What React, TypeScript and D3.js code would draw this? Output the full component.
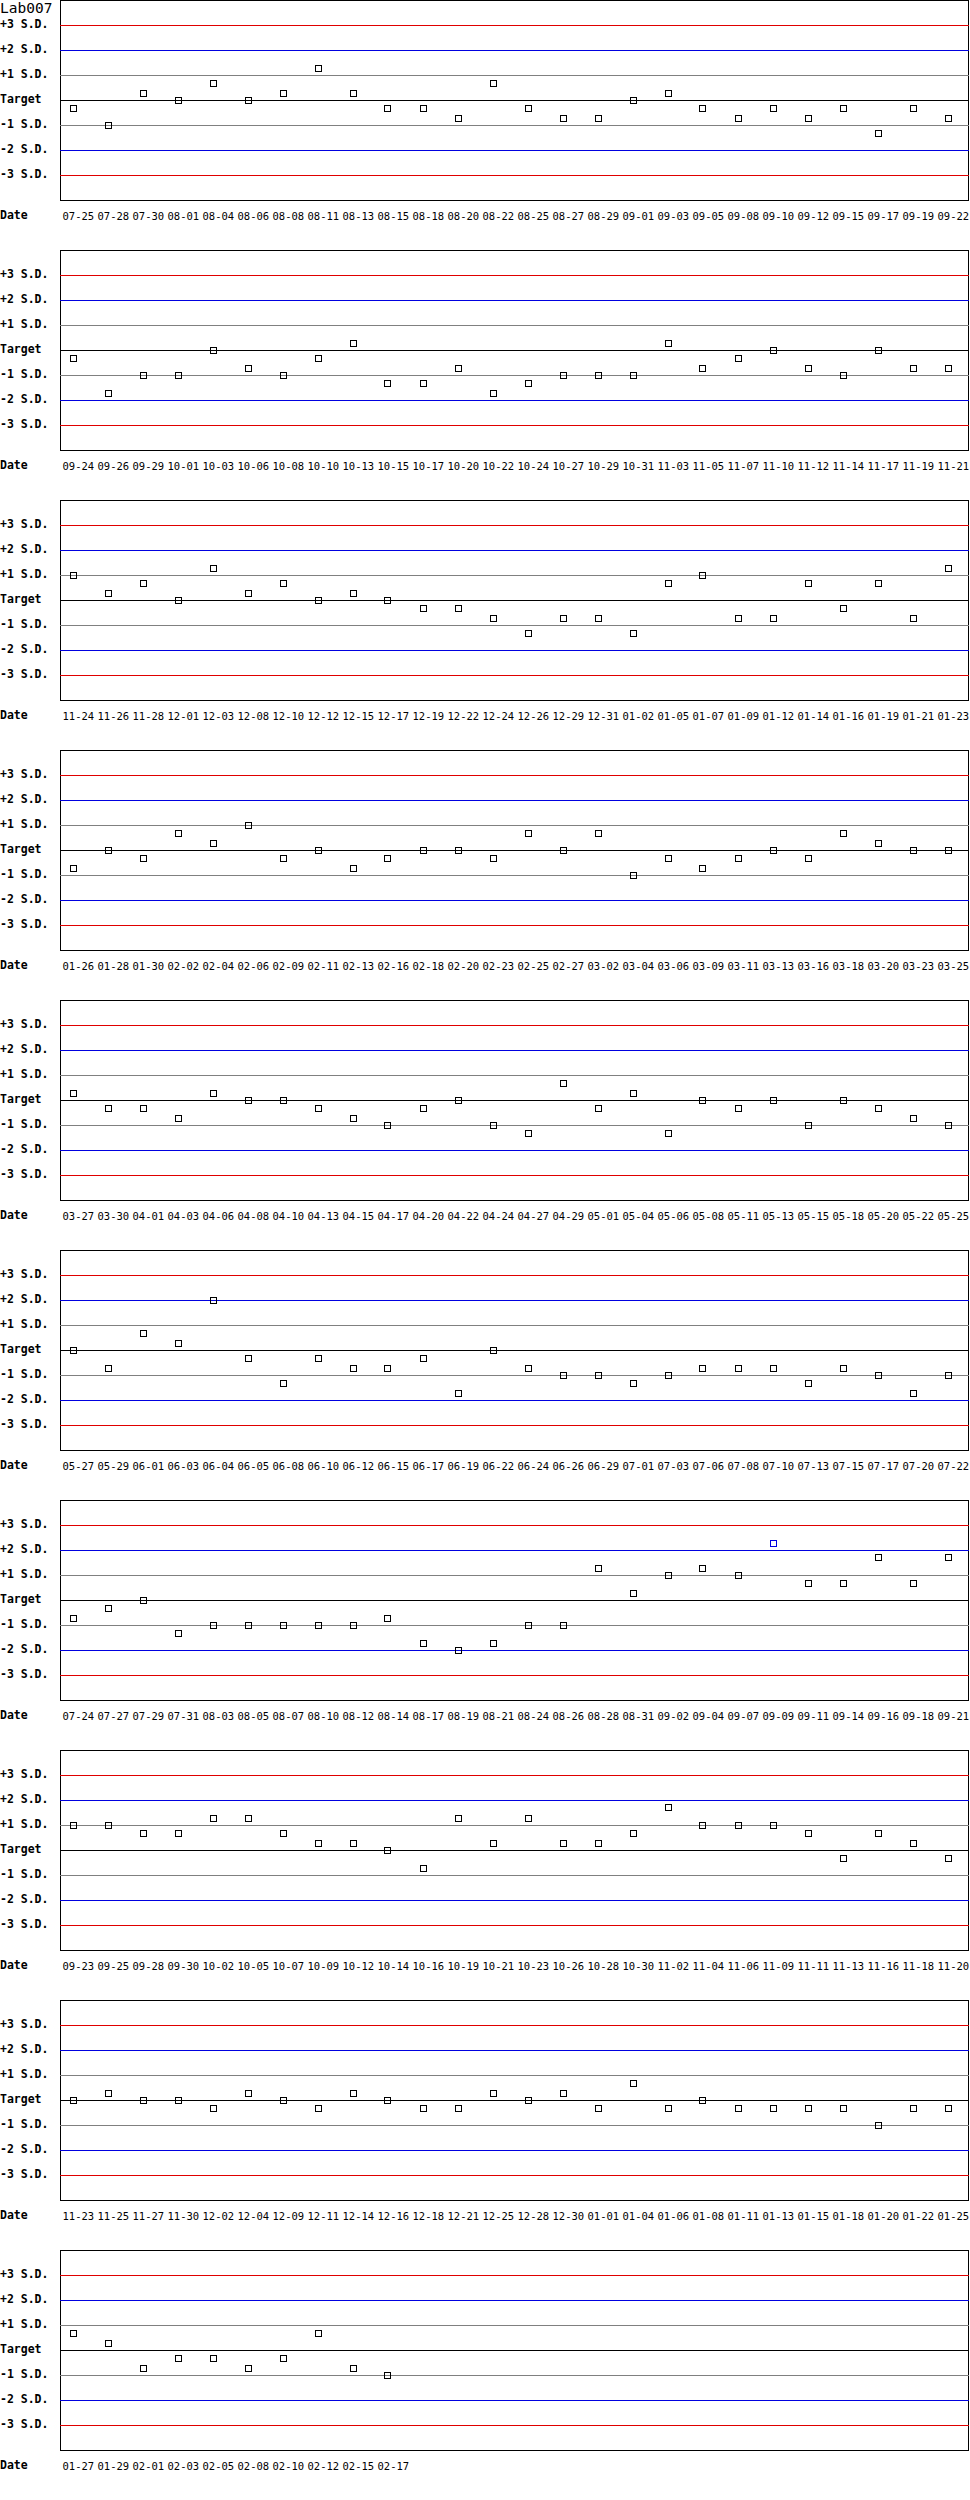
import * as d3 from "d3";

// QC results for Lab007, expressed in S.D. from target, one row of the chart per array pair
const dates1 = ["07-25", "07-28", "07-30", "08-01", "08-04", "08-06", "08-08", "08-11", "08-13", "08-15", "08-18", "08-20", "08-22", "08-25", "08-27", "08-29", "09-01", "09-03", "09-05", "09-08", "09-10", "09-12", "09-15", "09-17", "09-19", "09-22"];
const sd1 = [-0.3, -1.0, 0.3, 0, 0.7, 0, 0.3, 1.3, 0.3, -0.3, -0.3, -0.7, 0.7, -0.3, -0.7, -0.7, 0, 0.3, -0.3, -0.7, -0.3, -0.7, -0.3, -1.3, -0.3, -0.7];

const dates2 = ["09-24", "09-26", "09-29", "10-01", "10-03", "10-06", "10-08", "10-10", "10-13", "10-15", "10-17", "10-20", "10-22", "10-24", "10-27", "10-29", "10-31", "11-03", "11-05", "11-07", "11-10", "11-12", "11-14", "11-17", "11-19", "11-21"];
const sd2 = [-0.3, -1.7, -1.0, -1.0, 0, -0.7, -1.0, -0.3, 0.3, -1.3, -1.3, -0.7, -1.7, -1.3, -1.0, -1.0, -1.0, 0.3, -0.7, -0.3, 0, -0.7, -1.0, 0, -0.7, -0.7];

const dates3 = ["11-24", "11-26", "11-28", "12-01", "12-03", "12-08", "12-10", "12-12", "12-15", "12-17", "12-19", "12-22", "12-24", "12-26", "12-29", "12-31", "01-02", "01-05", "01-07", "01-09", "01-12", "01-14", "01-16", "01-19", "01-21", "01-23"];
const sd3 = [1.0, 0.3, 0.7, 0, 1.3, 0.3, 0.7, 0, 0.3, 0, -0.3, -0.3, -0.7, -1.3, -0.7, -0.7, -1.3, 0.7, 1.0, -0.7, -0.7, 0.7, -0.3, 0.7, -0.7, 1.3];

const dates4 = ["01-26", "01-28", "01-30", "02-02", "02-04", "02-06", "02-09", "02-11", "02-13", "02-16", "02-18", "02-20", "02-23", "02-25", "02-27", "03-02", "03-04", "03-06", "03-09", "03-11", "03-13", "03-16", "03-18", "03-20", "03-23", "03-25"];
const sd4 = [-0.7, 0, -0.3, 0.7, 0.3, 1.0, -0.3, 0, -0.7, -0.3, 0, 0, -0.3, 0.7, 0, 0.7, -1.0, -0.3, -0.7, -0.3, 0, -0.3, 0.7, 0.3, 0, 0];

const dates5 = ["03-27", "03-30", "04-01", "04-03", "04-06", "04-08", "04-10", "04-13", "04-15", "04-17", "04-20", "04-22", "04-24", "04-27", "04-29", "05-01", "05-04", "05-06", "05-08", "05-11", "05-13", "05-15", "05-18", "05-20", "05-22", "05-25"];
const sd5 = [0.3, -0.3, -0.3, -0.7, 0.3, 0, 0, -0.3, -0.7, -1.0, -0.3, 0, -1.0, -1.3, 0.7, -0.3, 0.3, -1.3, 0, -0.3, 0, -1.0, 0, -0.3, -0.7, -1.0];

const dates6 = ["05-27", "05-29", "06-01", "06-03", "06-04", "06-05", "06-08", "06-10", "06-12", "06-15", "06-17", "06-19", "06-22", "06-24", "06-26", "06-29", "07-01", "07-03", "07-06", "07-08", "07-10", "07-13", "07-15", "07-17", "07-20", "07-22"];
const sd6 = [0, -0.7, 0.7, 0.3, 2.0, -0.3, -1.3, -0.3, -0.7, -0.7, -0.3, -1.7, 0, -0.7, -1.0, -1.0, -1.3, -1.0, -0.7, -0.7, -0.7, -1.3, -0.7, -1.0, -1.7, -1.0];

const dates7 = ["07-24", "07-27", "07-29", "07-31", "08-03", "08-05", "08-07", "08-10", "08-12", "08-14", "08-17", "08-19", "08-21", "08-24", "08-26", "08-28", "08-31", "09-02", "09-04", "09-07", "09-09", "09-11", "09-14", "09-16", "09-18", "09-21"];
const sd7 = [-0.7, -0.3, 0, -1.3, -1.0, -1.0, -1.0, -1.0, -1.0, -0.7, -1.7, -2.0, -1.7, -1.0, -1.0, 1.3, 0.3, 1.0, 1.3, 1.0, 2.3, 0.7, 0.7, 1.7, 0.7, 1.7];

const dates8 = ["09-23", "09-25", "09-28", "09-30", "10-02", "10-05", "10-07", "10-09", "10-12", "10-14", "10-16", "10-19", "10-21", "10-23", "10-26", "10-28", "10-30", "11-02", "11-04", "11-06", "11-09", "11-11", "11-13", "11-16", "11-18", "11-20"];
const sd8 = [1.0, 1.0, 0.7, 0.7, 1.3, 1.3, 0.7, 0.3, 0.3, 0, -0.7, 1.3, 0.3, 1.3, 0.3, 0.3, 0.7, 1.7, 1.0, 1.0, 1.0, 0.7, -0.3, 0.7, 0.3, -0.3];

const dates9 = ["11-23", "11-25", "11-27", "11-30", "12-02", "12-04", "12-09", "12-11", "12-14", "12-16", "12-18", "12-21", "12-25", "12-28", "12-30", "01-01", "01-04", "01-06", "01-08", "01-11", "01-13", "01-15", "01-18", "01-20", "01-22", "01-25"];
const sd9 = [0, 0.3, 0, 0, -0.3, 0.3, 0, -0.3, 0.3, 0, -0.3, -0.3, 0.3, 0, 0.3, -0.3, 0.7, -0.3, 0, -0.3, -0.3, -0.3, -0.3, -1.0, -0.3, -0.3];

const dates10 = ["01-27", "01-29", "02-01", "02-03", "02-05", "02-08", "02-10", "02-12", "02-15", "02-17"];
const sd10 = [0.7, 0.3, -0.7, -0.3, -0.3, -0.7, -0.3, 0.7, -0.7, -1.0];

const limitLabels = ["+3 S.D.", "+2 S.D.", "+1 S.D.", "Target", "-1 S.D.", "-2 S.D.", "-3 S.D."];
const limitLevels = [3, 2, 1, 0, -1, -2, -3];

const panels: [string[], number[]][] = [
  [dates1, sd1], [dates2, sd2], [dates3, sd3], [dates4, sd4], [dates5, sd5],
  [dates6, sd6], [dates7, sd7], [dates8, sd8], [dates9, sd9], [dates10, sd10],
];

const W = 970;
const PANEL_H = 250;
const plot = { left: 60, right: 969, top: 0, bottom: 200 };
const SLOTS = 26;
const SLOT_W = 35;

const mono = "'DejaVu Sans Mono', monospace";

const lineColor = (lvl: number) =>
  lvl === 0 ? "#000000" : Math.abs(lvl) === 1 ? "#808080" : Math.abs(lvl) === 2 ? "#0000e0" : "#e00000";

function Panel({ dates, values, index }: { dates: string[]; values: number[]; index: number }) {
  const x = d3.scaleLinear().domain([0, SLOTS - 1]).range([72.5, 72.5 + (SLOTS - 1) * SLOT_W]);
  const y = d3.scaleLinear().domain([-4, 4]).range([plot.bottom, plot.top]);

  return (
    <g transform={`translate(0,${index * PANEL_H})`}>
      {index === 0 && (
        <text x={0} y={12.5} fontFamily={mono} fontSize={14.5} fill="#000">
          Lab007
        </text>
      )}
      <rect
        x={plot.left + 0.5}
        y={plot.top + 0.5}
        width={plot.right - plot.left - 1}
        height={plot.bottom - plot.top}
        fill="none"
        stroke="#000"
        strokeWidth={1}
        shapeRendering="crispEdges"
      />
      {limitLevels.map((lvl, i) => (
        <g key={lvl}>
          <line
            x1={plot.left}
            x2={plot.right}
            y1={Math.round(y(lvl)) + 0.5}
            y2={Math.round(y(lvl)) + 0.5}
            stroke={lineColor(lvl)}
            strokeWidth={1}
            shapeRendering="crispEdges"
          />
          <text x={0} y={y(lvl) + 3} fontFamily={mono} fontWeight="bold" fontSize={11.5} fill="#000">
            {limitLabels[i]}
          </text>
        </g>
      ))}
      {values.map((v, i) => (
        <rect
          key={i}
          x={Math.round(x(i)) - 3 + 0.5}
          y={Math.round(y(v)) - 3 + 0.5}
          width={6}
          height={6}
          fill="none"
          stroke={Math.abs(v) > 2 ? "#0000e0" : "#000"}
          strokeWidth={1}
          shapeRendering="crispEdges"
        />
      ))}
      <text x={0} y={219} fontFamily={mono} fontWeight="bold" fontSize={11.5} fill="#000">
        Date
      </text>
      {dates.map((d, i) => (
        <text key={d + i} x={x(i) - 10} y={220} fontFamily={mono} fontSize={10.5} fill="#000">
          {d}
        </text>
      ))}
    </g>
  );
}

export default function App() {
  return (
    <svg
      width={W}
      height={PANEL_H * panels.length}
      style={{ position: "absolute", left: 0, top: 0, background: "#fff" }}
    >
      <rect width={W} height={PANEL_H * panels.length} fill="#fff" />
      {panels.map(([dates, values], i) => (
        <Panel key={i} dates={dates} values={values} index={i} />
      ))}
    </svg>
  );
}
